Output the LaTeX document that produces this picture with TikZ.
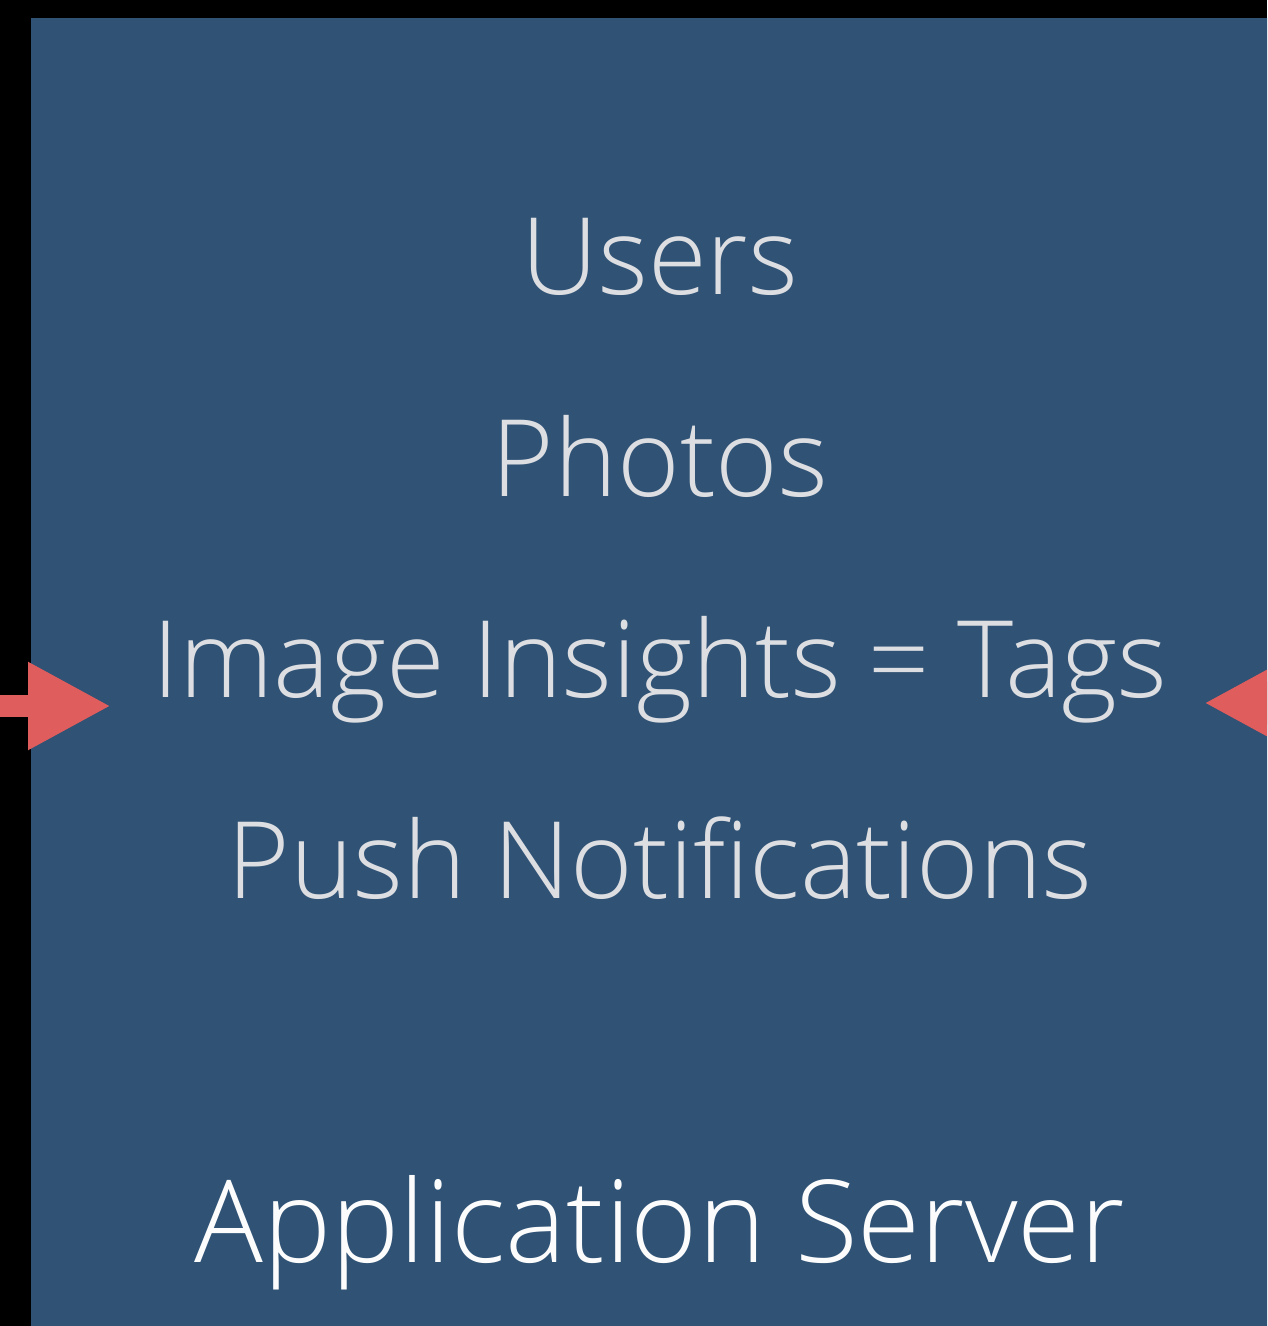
\documentclass[tikz,border=0pt]{standalone}
\usepackage{fontspec}
\setmainfont{Open Sans}[UprightFont={* Light}]
\usepackage{xcolor}
\usepackage{tikz}
\usetikzlibrary{arrows.meta,positioning}
\definecolor{serverblue}{RGB}{47,82,117}
\definecolor{arrowred}{RGB}{224,93,93}
\definecolor{textgrey}{RGB}{221,222,226}

\begin{document}
\begin{tikzpicture}[
  item/.style={anchor=base, text=textgrey, font=\fontsize{30.4}{30.4}\selectfont, inner sep=0pt},
  title/.style={anchor=base, text=white!92!textgrey, font=\fontsize{32.6}{32.6}\selectfont, inner sep=0pt},
  feed/.style={-{Triangle[length=8.3mm, width=8.2mm]}, arrowred, line width=2.2mm},
]
  \useasboundingbox (0,0) rectangle (12.67,-13.26);
  \clip (0,0) rectangle (12.67,-13.26);
  \fill[black] (0,0) rectangle (12.67,-13.26);

  % Server box
  \node[fill=serverblue, inner sep=0pt, minimum width=12.37cm, minimum height=13.09cm, anchor=north west] (server) at (0.30,-0.17) {};

  % Contents
  \node[item] (users) at (6.60,-2.95) {Users};
  \node[item] (photos) at (6.60,-4.97) {Photos};
  \node[item] (insights) at (6.60,-6.97) {Image Insights = Tags};
  \node[item] (push) at (6.60,-8.98) {Push Notifications};
  \node[title] (name) at (6.60,-12.62) {Application Server};

  % Arrows
  \coordinate (leftin) at (0,-7.06);
  \coordinate (lefttip) at (1.11,-7.06);
  \coordinate (rightin) at (13.60,-7.03);
  \coordinate (righttip) at (12.04,-7.03);
  \draw[feed] (leftin) -- (lefttip);
  \draw[feed] (rightin) -- (righttip);
\end{tikzpicture}
\end{document}
